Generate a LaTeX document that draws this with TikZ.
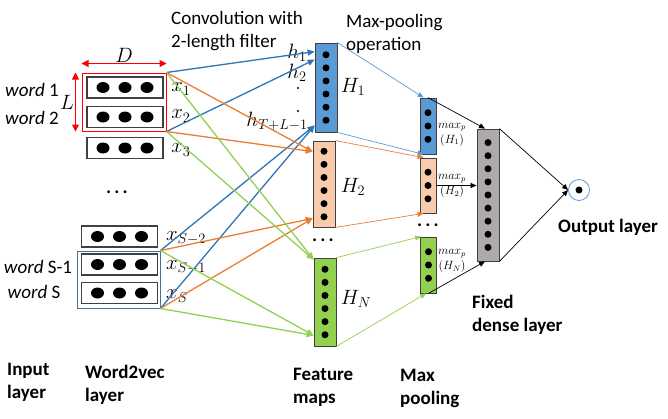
\documentclass[tikz,border=0pt]{standalone}
\usepackage{fontspec}
\setmainfont{Carlito}
\usetikzlibrary{arrows.meta, shapes.geometric}

\definecolor{convblue}{HTML}{2E75B6}
\definecolor{fillblue}{HTML}{5B9BD5}
\definecolor{convorange}{HTML}{ED7D31}
\definecolor{fillorange}{HTML}{F8CBAD}
\definecolor{convgreen}{HTML}{92D050}
\definecolor{fillgray}{HTML}{AEAAAA}
\definecolor{edgegray}{HTML}{404040}
\definecolor{boxblue}{HTML}{41719C}

\begin{document}
\begin{tikzpicture}[
        x                   = 1pt,
        y                   = -1pt,
        every node/.style   = {font=\fontsize{19}{23}\selectfont},
        wordbox/.style      = {draw=edgegray, line width=1.1pt, fill=white, minimum width=76pt, minimum height=21pt, inner sep=0pt},
        worddot/.style      = {ellipse, fill=black, minimum width=13pt, minimum height=11pt, inner sep=0pt},
        column/.style       = {draw=edgegray, line width=0.8pt, inner sep=0pt},
        coldot/.style       = {circle, fill=black, minimum size=7pt, inner sep=0pt},
        tinydot/.style      = {circle, fill=black, minimum size=2.4pt, inner sep=0pt},
        conv/.style         = {line width=1.3pt, -{Triangle[length=7pt, width=6pt]}},
        pool/.style         = {line width=0.7pt, -{Triangle[length=6pt, width=5pt]}},
        dimarrow/.style     = {red, line width=1pt, {Triangle[length=7pt, width=7pt]}-{Triangle[length=7pt, width=7pt]}},
        mathlbl/.style      = {font=\fontsize{21}{25}\selectfont, inner sep=1pt},
        small/.style        = {font=\fontsize{12}{15}\selectfont, align=center, inner sep=0pt},
        caption/.style      = {font=\fontsize{19}{23}\selectfont\bfseries, align=left, anchor=west, inner sep=0pt},
      ]
    \useasboundingbox (0,0) rectangle (668,418);

    % word2vec layer
    \node[wordbox] (w1) at (125,87.5) {};
    \node[wordbox] (w2) at (125,117) {};
    \node[wordbox] (w3) at (125,148) {};
    \node[wordbox] (w4) at (119.5,236.5) {};
    \node[wordbox] (w5) at (119.5,264.5) {};
    \node[wordbox] (w6) at (119.5,293) {};
    \foreach \w in {1,...,6}
        \foreach \k in {1,2,3}
            \node[worddot] (w\w d\k) at ([xshift=(\k-2)*22pt]w\w.center) {};
    \node (wdots) at (117,192) {\textbf{.\,.\,.}};

    \node[draw=red, line width=1pt, minimum width=84pt, minimum height=58pt, inner sep=0pt] (wa) at (124,102) {};
    \node[draw=boxblue, line width=0.9pt, minimum width=83pt, minimum height=57pt, inner sep=0pt] (wb) at (118.5,279.5) {};
    \draw[dimarrow] ([yshift=9pt]wa.north west) -- ([yshift=9pt]wa.north east)
        node[midway, above, mathlbl, black] (dlbl) {$D$};
    \draw[dimarrow] ([xshift=-6pt]wa.north west) -- ([xshift=-6pt]wa.south west)
        node[midway, left, mathlbl, black] (llbl) {$L$};

    \node (word1) at (32,90) {\textit{word} 1};
    \node (word2) at (32,118) {\textit{word} 2};
    \node (wordS1) at (38,267) {\textit{word} S-1};
    \node (wordS) at (34,292) {\textit{word} S};

    \node[mathlbl] (x1) at (181,89) {$x_1$};
    \node[mathlbl] (x2) at (181,116) {$x_2$};
    \node[mathlbl] (x3) at (181,150) {$x_3$};
    \node[mathlbl] (xS2) at (186,238) {$x_{S-2}$};
    \node[mathlbl] (xS1) at (186,267) {$x_{S-1}$};
    \node[mathlbl] (xS) at (177,296) {$x_S$};

    % feature maps
    \node[column, fill=fillblue, minimum width=22pt, minimum height=89pt] (h1col) at (326,87.5) {};
    \node[column, fill=fillorange, minimum width=22pt, minimum height=86pt] (h2col) at (324,184) {};
    \node[column, fill=convgreen, minimum width=22pt, minimum height=88pt] (hncol) at (325,302) {};
    \foreach \c in {h1col,h2col,hncol}
        \foreach \i in {1,...,6}
            \node[coldot] (\c d\i) at ([yshift=-(\i-3.5)*13.1pt]\c.center) {};
    \node (hdots) at (323,240) {\textbf{.\,.\,.}};

    \node[mathlbl] (h1lbl) at (353,87) {$H_1$};
    \node[mathlbl] (h2lbl) at (353,187) {$H_2$};
    \node[mathlbl] (hnlbl) at (356,299) {$H_N$};
    \node[mathlbl] (hs1) at (297,53) {$h_1$};
    \node[mathlbl] (hs2) at (297,73) {$h_2$};
    \node[tinydot] (hsd1) at (298,88) {};
    \node[tinydot] (hsd2) at (298,111) {};
    \node[mathlbl] (hsn) at (277,121) {$h_{T+L-1}$};

    % max pooling
    \node[column, fill=fillblue, minimum width=16pt, minimum height=56pt] (mp1) at (428,126) {};
    \node[column, fill=fillorange, minimum width=16pt, minimum height=55pt] (mp2) at (428,185.5) {};
    \node[column, fill=convgreen, minimum width=16pt, minimum height=56pt] (mpn) at (428.5,265) {};
    \foreach \c in {mp1,mp2,mpn}
        \foreach \i in {1,2,3}
            \node[coldot] (\c d\i) at ([yshift=-(\i-2)*13.3pt]\c.center) {};
    \node (mpdots) at (428,225) {\textbf{.\,.\,.}};

    \node[small] (mp1lbl) at (452,134.5) {$max_p$\\$(H_1)$};
    \node[small] (mp2lbl) at (452,186) {$max_p$\\$(H_2)$};
    \node[small] (mpnlbl) at (452,261) {$max_p$\\$(H_N)$};

    % fixed dense layer and output
    \node[column, fill=fillgray, minimum width=22pt, minimum height=132pt] (fd) at (488,195) {};
    \foreach \i in {1,...,9}
        \node[coldot] (fd d\i) at ([yshift=-(\i-5)*13.1pt]fd.center) {};
    \node[circle, draw=fillblue, line width=0.8pt, minimum size=21pt, inner sep=0pt] (out) at (579,190) {};
    \node[coldot] (outd) at (out.center) {};

    % convolution connectors
    \draw[conv, convblue] (wa.north east) -- ([yshift=-9pt]h1col.north west);
    \draw[conv, convblue] (wa.south east) -- ([yshift=-17pt]h1col.north west);
    \draw[conv, convblue] (wb.north east) -- ([yshift=7pt]h1col.south west);
    \draw[conv, convblue] (wb.south east) -- ([yshift=7pt]h1col.south west);
    \draw[conv, convorange] (wa.north east) -- ([yshift=-11pt]h2col.north west);
    \draw[conv, convorange] (wa.south east) -- ([yshift=-11pt]h2col.north west);
    \draw[conv, convorange] (wb.north east) -- ([yshift=9pt]h2col.south west);
    \draw[conv, convorange] (wb.south east) -- ([yshift=9pt]h2col.south west);
    \draw[conv, convgreen] (wa.north east) -- ([yshift=-2pt]hncol.north west);
    \draw[conv, convgreen] (wa.south east) -- ([yshift=-2pt]hncol.north west);
    \draw[conv, convgreen] (wb.north east) -- ([yshift=11pt]hncol.south west);
    \draw[conv, convgreen] (wb.south east) -- ([yshift=11pt]hncol.south west);

    % pooling connectors
    \draw[pool, fillblue] (h1col.north east) -- ([xshift=4pt]mp1.north west);
    \draw[pool, fillblue] (h1col.south east) -- ([xshift=4pt]mp1.south west);
    \draw[pool, convorange] (h2col.north east) -- ([xshift=4pt]mp2.north west);
    \draw[pool, convorange] (h2col.south east) -- ([xshift=4pt]mp2.south west);
    \draw[pool, convgreen] (hncol.north east) -- ([xshift=1pt]mpn.north west);
    \draw[pool, convgreen] (hncol.south east) -- ([xshift=6pt]mpn.south west);

    \draw[pool, black] (mp1.north) -- ([xshift=-3pt]fd.north);
    \draw[pool, black] (mp2.east) -- (fd.west |- mp2.east);
    \draw[pool, black] (mpn.south) -- ([xshift=-3pt]fd.south);
    \draw[pool, black] (fd.north east) -- (out.west);
    \draw[pool, black] (fd.south east) -- (out.west);

    % captions
    \node[anchor=west, align=left, inner sep=0pt] (convlbl) at (171,31) {Convolution with\\2-length filter};
    \node[anchor=west, align=left, inner sep=0pt] (poollbl) at (346,34) {Max-pooling\\operation};
    \node[caption] (inlbl) at (7,382) {Input\\layer};
    \node[caption] (w2vlbl) at (85,385) {Word2vec\\layer};
    \node[caption] (fmlbl) at (293,387) {Feature\\maps};
    \node[caption] (mplbl) at (400,388) {Max\\pooling};
    \node[caption] (fdlbl) at (472,315) {Fixed\\dense layer};
    \node[caption] (outlbl) at (558,227) {Output layer};
\end{tikzpicture}
\end{document}
